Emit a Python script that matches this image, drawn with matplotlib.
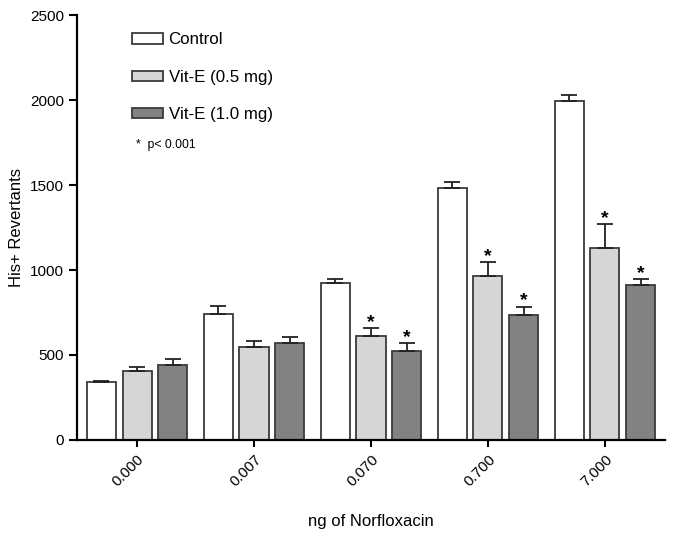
import numpy as np
import matplotlib
matplotlib.use('Agg')
import matplotlib.pyplot as plt

plt.rcParams['font.family'] = ['Liberation Sans', 'DejaVu Sans']

doses = ['0.000', '0.007', '0.070', '0.700', '7.000']
series = ['Control', 'Vit-E (0.5 mg)', 'Vit-E (1.0 mg)']
means = [
    [339, 743, 925, 1484, 1994],   # control
    [408, 547, 614, 963, 1128],    # vit-E 0.5
    [439, 569, 522, 735, 910],     # vit-E 1.0
]
errs = [
    [6, 43, 22, 34, 37],
    [21, 37, 45, 82, 143],
    [39, 37, 49, 49, 37],
]
# significance marks (p < 0.001)
signif = [
    [False, False, False, False, False],
    [False, False, True, True, True],
    [False, False, True, True, True],
]

colors = ['white', '#d6d6d6', '#828282']

fig = plt.figure(figsize=(6.85, 5.38), dpi=100)
ax = fig.add_axes([0.1124, 0.1822, 0.8584, 0.7898])

x = np.arange(len(doses))
step = 0.304
width = 0.248
for i in range(3):
    xi = x + (i - 1) * step
    ax.bar(xi, means[i], width, color=colors[i], edgecolor='#3a3a3a',
           linewidth=1.3, label=series[i], zorder=2)
    ax.errorbar(xi, means[i], yerr=[np.zeros(len(doses)), errs[i]], fmt='none',
                ecolor='#222222', elinewidth=1.3, capsize=5.6, capthick=1.3, zorder=3)
    for j in range(len(doses)):
        if signif[i][j]:
            ax.annotate('*', (xi[j], means[i][j] + errs[i][j]), xytext=(0, -2),
                        textcoords='offset points', ha='center', va='bottom',
                        fontsize=14, fontweight='bold')

ax.set_xlim(-0.513, 4.513)
ax.set_ylim(0, 2500)
ax.set_yticks([0, 500, 1000, 1500, 2000, 2500])
ax.set_xticks(x)
ax.set_xticklabels(doses, rotation=45, ha='right', rotation_mode='anchor')
ax.tick_params(axis='y', labelsize=11, width=1.5, length=6)
ax.tick_params(axis='x', labelsize=11, width=1.5, length=5, pad=4)

for s in ['top', 'right']:
    ax.spines[s].set_visible(False)
for s in ['left', 'bottom']:
    ax.spines[s].set_linewidth(1.6)

ax.set_ylabel('His+ Revertants', fontsize=12, labelpad=4)
ax.set_xlabel('ng of Norfloxacin', fontsize=12, labelpad=18)

leg = ax.legend(loc='upper left', bbox_to_anchor=(0.0935, 0.959), frameon=False,
                fontsize=12.2, handlelength=1.83, handleheight=0.56,
                handletextpad=0.33, labelspacing=1.31, borderpad=0, borderaxespad=0)
ax.text(0.1, 0.695, '*  p< 0.001', transform=ax.transAxes, fontsize=8.8,
        ha='left', va='center')

fig.savefig('out.png', dpi=100)
